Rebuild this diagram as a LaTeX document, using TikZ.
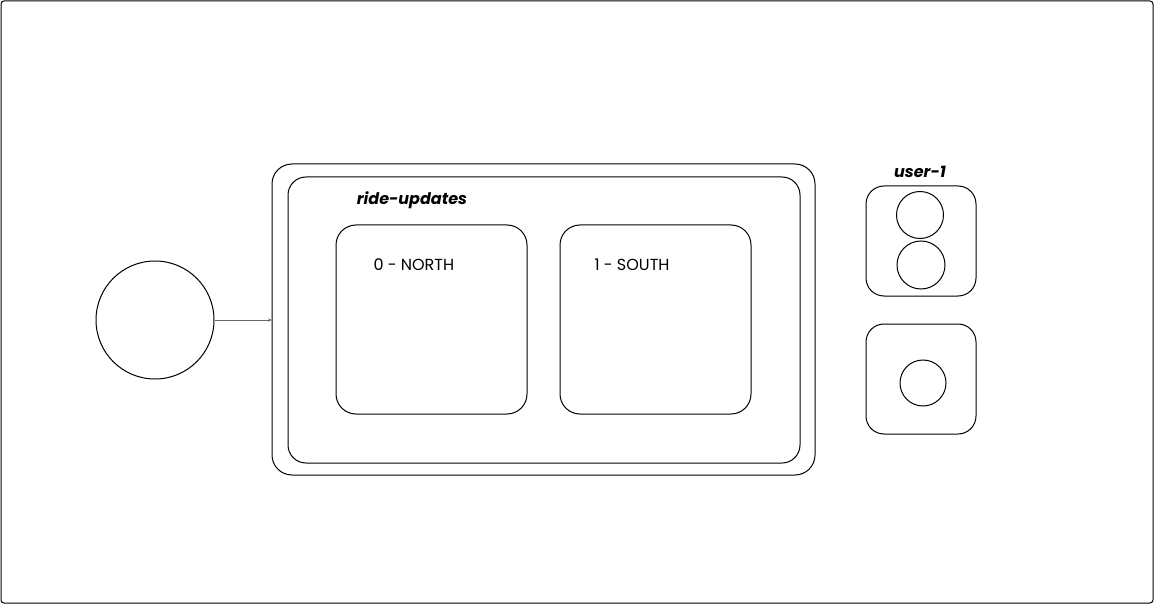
\documentclass[tikz,border=0pt]{standalone}
\usepackage{fontspec}
\setmainfont{Poppins}
\usetikzlibrary{arrows.meta}
\begin{document}
\begin{tikzpicture}[x=1pt,y=-1pt,line width=1pt,
  box/.style={draw,rounded corners=#1},
  lbl/.style={font=\fontsize{16}{18}\selectfont,anchor=west,inner sep=0pt},
  title/.style={font=\fontsize{16}{18}\selectfont\bfseries\itshape,inner sep=0pt},
  circ/.style={draw,circle,inner sep=0pt,minimum size=#1}]
\useasboundingbox (0,0) rectangle (1154,604);
\draw[rounded corners=3,line width=1pt] (1,1) rectangle (1153,603);
% topic
\draw[box=20] (272,164) rectangle (815,475);
\draw[box=18] (288,177) rectangle (800,463);
\node[title] (topic) at (412,200) {ride-updates};
\draw[box=20] (336,225) rectangle (527,414);
\draw[box=20] (560,225) rectangle (751,414);
\node[lbl] (p0) at (373,265) {0 - NORTH};
\node[lbl] (p1) at (594,265) {1 - SOUTH};
\coordinate (tin) at (272,320);
% producer
\node[circ=118] (prod) at (155,320) {};
\draw[-{Stealth[length=4pt,width=3pt]},draw=black!60,line width=1pt] (prod.east) -- (tin);
% consumers
\node[title] (user) at (920,172) {user-1};
\draw[box=18] (866,186) rectangle (976,296);
\node[circ=47] (c1) at (920,215) {};
\node[circ=48] (c2) at (921,265) {};
\draw[box=18] (866,324) rectangle (976,434);
\node[circ=46] (c3) at (923,383) {};
\end{tikzpicture}
\end{document}
